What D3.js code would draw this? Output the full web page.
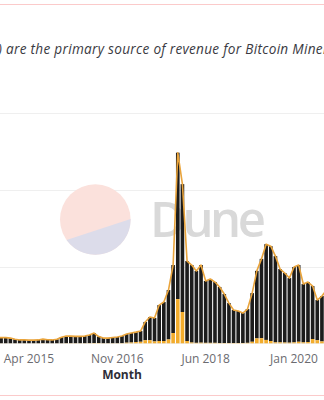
<!DOCTYPE html>
<html>
<head>
<meta charset="utf-8">
<script src="https://cdn.jsdelivr.net/npm/d3@7"></script>
<style>
  html, body { margin: 0; padding: 0; background: #fff; overflow: hidden; }
  svg { display: block; }
</style>
</head>
<body>
<svg id="chart" width="324" height="400"></svg>
<script>
// ---- data (USD millions per month) ----
const months = [
  "2014-09","2014-10","2014-11","2014-12",
  "2015-01","2015-02","2015-03","2015-04","2015-05","2015-06","2015-07","2015-08","2015-09","2015-10","2015-11","2015-12",
  "2016-01","2016-02","2016-03","2016-04","2016-05","2016-06","2016-07","2016-08","2016-09","2016-10","2016-11","2016-12",
  "2017-01","2017-02","2017-03","2017-04","2017-05","2017-06","2017-07","2017-08","2017-09","2017-10","2017-11","2017-12",
  "2018-01","2018-02","2018-03","2018-04","2018-05","2018-06","2018-07","2018-08","2018-09","2018-10","2018-11","2018-12",
  "2019-01","2019-02","2019-03","2019-04","2019-05","2019-06","2019-07","2019-08","2019-09","2019-10","2019-11","2019-12",
  "2020-01","2020-02","2020-03","2020-04","2020-05","2020-06","2020-07","2020-08"
];
const totalRevenue = [
  38,37,37,34,
  26,22,22,21,21,22,27,23,22,26,40,47,
  47,45,45,47,54,67,44,34,34,38,41,47,
  60,67,73,80,139,171,165,249,269,347,510,1242,
  1037,536,510,471,510,406,419,399,367,321,262,217,
  210,197,223,327,472,550,646,633,568,484,458,425,
  497,510,386,399,373,282,308,347
];
const feeRevenue = [
  0.5,0.5,0.5,0.5,
  0.5,0.5,0.5,0.5,0.5,0.5,1,0.5,0.5,0.5,0.5,1,
  1,1,1,1,1.5,2,2,1,1,1,1,1.5,
  4,5,8,10,20,20,12,15,15,25,67,288,
  204,15,5,3,4,3,3,3,2,2,2,2,
  2,2,3,10,32,33,22,15,6,6,5,4,
  6,10,6,8,28,20,12,15
];
const gridValues = [0, 500, 1000, 1500];
const tickMonths = ["2015-04","2016-11","2018-06","2020-01"];
const tickLabels = ["Apr 2015","Nov 2016","Jun 2018","Jan 2020"];
const titleText = ") are the primary source of revenue for Bitcoin Miners";
const xTitle = "Month";

// ---- layout ----
const svg = d3.select("#chart");
const W = 324, H = 400;
const step = 4.65;
const x0 = -5.9;
const x = d3.scaleBand().domain(months).range([x0, x0 + step * months.length]).paddingInner(0.22).paddingOuter(0.11);
const y = d3.scaleLinear().domain([0, 1500]).range([343.3, 113.1]);

// card borders
svg.append("line").attr("x1", 0).attr("x2", W).attr("y1", 4.5).attr("y2", 4.5).attr("stroke", "#fbcaca").attr("stroke-width", 1);
svg.append("line").attr("x1", 0).attr("x2", W).attr("y1", 395.5).attr("y2", 395.5).attr("stroke", "#fbcaca").attr("stroke-width", 1);

// title
svg.append("text").attr("x", -2).attr("y", 53.5)
  .attr("font-family", "'Open Sans', sans-serif").attr("font-size", 13.6).attr("font-style", "italic")
  .attr("letter-spacing", 0.3)
  .attr("fill", "#3a3a42").text(titleText);

// gridlines
svg.append("g").selectAll("line").data(gridValues).join("line")
  .attr("x1", 0).attr("x2", W)
  .attr("y1", d => Math.round(y(d)) + 0.5).attr("y2", d => Math.round(y(d)) + 0.5)
  .attr("stroke", "#efefef").attr("stroke-width", 1);

// watermark
const wm = svg.append("g");
const cx = 95.3, cy = 219.5, r = 35.3;
wm.append("circle").attr("cx", cx).attr("cy", cy).attr("r", r).attr("fill", "#fbe1dc");
const a1 = Math.asin((240 - cy) / r);
const pA = [cx - r * Math.cos(a1), 240];
const pB = [cx + r * Math.cos(Math.asin((219 - cy) / r)), 219];
const arcPath = d3.path();
arcPath.moveTo(pA[0], pA[1]);
arcPath.lineTo(pB[0], pB[1]);
{
  const angB = Math.atan2(pB[1] - cy, pB[0] - cx);
  const angA = Math.atan2(pA[1] - cy, pA[0] - cx);
  arcPath.arc(cx, cy, r, angB, angA, false);
}
arcPath.closePath();
wm.append("path").attr("d", arcPath.toString()).attr("fill", "#dcdcea");
wm.append("text").attr("x", 150).attr("y", 237)
  .attr("font-family", "'Open Sans', sans-serif").attr("font-weight", 600).attr("font-size", 49)
  .attr("letter-spacing", -3.5)
  .attr("fill", "#d9d9d9").text("Dune");

// bars: fees (bottom), block reward (top)
const data = months.map((m, i) => ({ m, total: totalRevenue[i], fee: feeRevenue[i] }));
const bars = svg.append("g");
bars.selectAll("rect.reward").data(data).join("rect").attr("class", "reward")
  .attr("x", d => x(d.m)).attr("width", x.bandwidth())
  .attr("y", d => y(d.total)).attr("height", d => y(d.fee) - y(d.total))
  .attr("fill", "#1c1c1c");
bars.selectAll("rect.fee").data(data).join("rect").attr("class", "fee")
  .attr("x", d => x(d.m)).attr("width", x.bandwidth())
  .attr("y", d => y(d.fee)).attr("height", d => y(0) - y(d.fee))
  .attr("fill", "#f2ac2c");

// total line
const line = d3.line().x(d => x(d.m) + x.bandwidth() / 2).y(d => y(d.total));
svg.append("path").datum(data).attr("d", line)
  .attr("fill", "none").attr("stroke", "#e9a43c").attr("stroke-width", 1.6).attr("stroke-linejoin", "round");

// x axis
const xAxis = d3.axisBottom(x).tickValues(tickMonths).tickSize(0).tickPadding(0)
  .tickFormat(d => tickLabels[tickMonths.indexOf(d)]);
const gx = svg.append("g").attr("transform", "translate(0,354)").call(xAxis);
gx.select(".domain").remove();
gx.selectAll("text").attr("font-family", "'Open Sans', sans-serif").attr("font-size", 12)
  .attr("fill", "#6b6b70").attr("dy", "0.71em");

svg.append("text").attr("x", 122).attr("y", 378.5).attr("text-anchor", "middle")
  .attr("font-family", "'Open Sans', sans-serif").attr("font-weight", 700).attr("font-size", 12)
  .attr("fill", "#2e2e38").text(xTitle);
</script>
</body>
</html>
